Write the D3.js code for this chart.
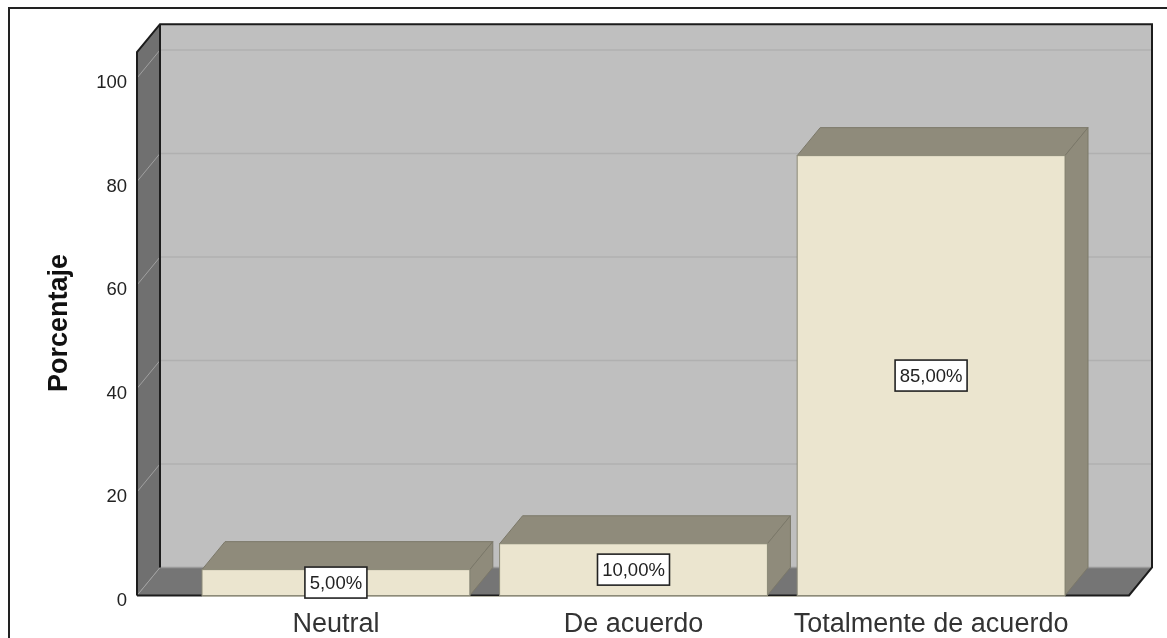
<!DOCTYPE html>
<html><head><meta charset="utf-8">
<script src="https://cdn.jsdelivr.net/npm/d3@7"></script>
<style>html,body{margin:0;background:#fff;overflow:hidden}svg{display:block;filter:blur(0.45px)}text{font-family:"Liberation Sans",Arial,sans-serif}</style>
</head><body><svg id="c" width="1167" height="638"></svg>
<script>
const categories = ["Neutral","De acuerdo","Totalmente de acuerdo"];
const values = [5,10,85];
const valueLabels = ["5,00%","10,00%","85,00%"];
const yTicks = [0,20,40,60,80,100];
const yTitle = "Porcentaje";

const svg = d3.select("#c");
const dx = 23, dy = -28;
const x0 = 137, x1 = 1129;
const y = d3.scaleLinear().domain([0,100]).range([595.5,78]);
const x = d3.scaleBand().domain(categories).range([202,1065]).paddingInner(0.1).paddingOuter(0);
const yTop = y(105);
const poly = pts => pts.map(p=>p.join(",")).join(" ");

// outer frame: left and top only are inside the picture
svg.append("polyline").attr("points",poly([[9,660],[9,8],[1180,8]])).attr("fill","none").attr("stroke","#222").attr("stroke-width",2);

// back wall
svg.append("polygon").attr("points",poly([[x0+dx,yTop+dy],[x1+dx,yTop+dy],[x1+dx,y(0)+dy],[x0+dx,y(0)+dy]])).attr("fill","#bfbfbf");
// side wall
svg.append("polygon").attr("points",poly([[x0,yTop],[x0+dx,yTop+dy],[x0+dx,y(0)+dy],[x0,y(0)]])).attr("fill","#707070");
// floor
svg.append("polygon").attr("points",poly([[x0,y(0)],[x0+dx,y(0)+dy],[x1+dx,y(0)+dy],[x1,y(0)]])).attr("fill","#757575");

// gridlines
yTicks.forEach(t=>{
  const yy=y(t);
  svg.append("line").attr("x1",x0+dx).attr("x2",x1+dx).attr("y1",yy+dy).attr("y2",yy+dy).attr("stroke",t>0?"#b0b0b0":"#9a9a9a").attr("stroke-width",1.5);
  svg.append("line").attr("x1",x0).attr("x2",x0+dx).attr("y1",yy).attr("y2",yy+dy).attr("stroke","#a0a0a0").attr("stroke-width",1);
});

// wall edges
const edge = (pts,w)=>svg.append("polyline").attr("points",poly(pts)).attr("fill","none").attr("stroke","#1c1c1c").attr("stroke-width",w||2);
edge([[x0,y(0)],[x0,yTop],[x0+dx,yTop+dy],[x1+dx,yTop+dy],[x1+dx,y(0)+dy],[x1,y(0)],[x0,y(0)]]);
edge([[x0+dx,yTop+dy],[x0+dx,y(0)+dy]]);

// bars
const bars = svg.selectAll("g.bar").data(categories).join("g").attr("class","bar");
bars.each(function(c,i){
  const g=d3.select(this), l=x(c), r=l+x.bandwidth(), t=y(values[i]), b=y(0);
  g.append("polygon").attr("points",poly([[l,t],[l+dx,t+dy],[r+dx,t+dy],[r,t]])).attr("fill","#8f8b7b").attr("stroke","#7b7869");
  g.append("polygon").attr("points",poly([[r,t],[r+dx,t+dy],[r+dx,b+dy],[r,b]])).attr("fill","#8f8b7b").attr("stroke","#7b7869");
  g.append("rect").attr("x",l).attr("y",t).attr("width",r-l).attr("height",b-t).attr("fill","#ebe5cf").attr("stroke","#8c8a78");
});
svg.append("line").attr("x1",x.range()[0]).attr("x2",x.range()[1]).attr("y1",y(0)+1).attr("y2",y(0)+1).attr("stroke","#b5b3a6");

// value labels
const boxW=[62,72,72], boxH=31;
const lab = svg.selectAll("g.lab").data(categories).join("g").attr("class","lab");
lab.each(function(c,i){
  const g=d3.select(this), cx=x(c)+x.bandwidth()/2, cy=(y(values[i])+y(0))/2;
  g.append("rect").attr("x",cx-boxW[i]/2).attr("y",cy-boxH/2).attr("width",boxW[i]).attr("height",boxH).attr("fill","#fff").attr("stroke","#222").attr("stroke-width",1.6);
  g.append("text").attr("x",cx).attr("y",cy+6.5).attr("text-anchor","middle").attr("font-size",18.5).attr("fill","#222").text(valueLabels[i]);
});

// y axis
const axis = d3.axisLeft(y).tickValues(yTicks).tickSize(0).tickPadding(10).tickFormat(d3.format("d"));
const ga = svg.append("g").attr("transform",`translate(${x0},0)`).call(axis);
ga.select(".domain").remove();
ga.selectAll("text").attr("font-size",18.5).attr("font-family",null).attr("fill","#222").attr("dy",0).attr("y",9.5);

svg.append("text").attr("transform","translate(67,323) rotate(-90)").attr("text-anchor","middle").attr("font-size",27).attr("font-weight","bold").attr("fill","#111").text(yTitle);

// x labels
const xa = d3.axisBottom(x).tickSize(0).tickPadding(0);
const gx = svg.append("g").attr("transform",`translate(0,${y(0)})`).call(xa);
gx.select(".domain").remove();
gx.selectAll("text").attr("font-size",27).attr("font-family",null).attr("fill","#333").attr("y",36).attr("dy",0);
</script></body></html>
